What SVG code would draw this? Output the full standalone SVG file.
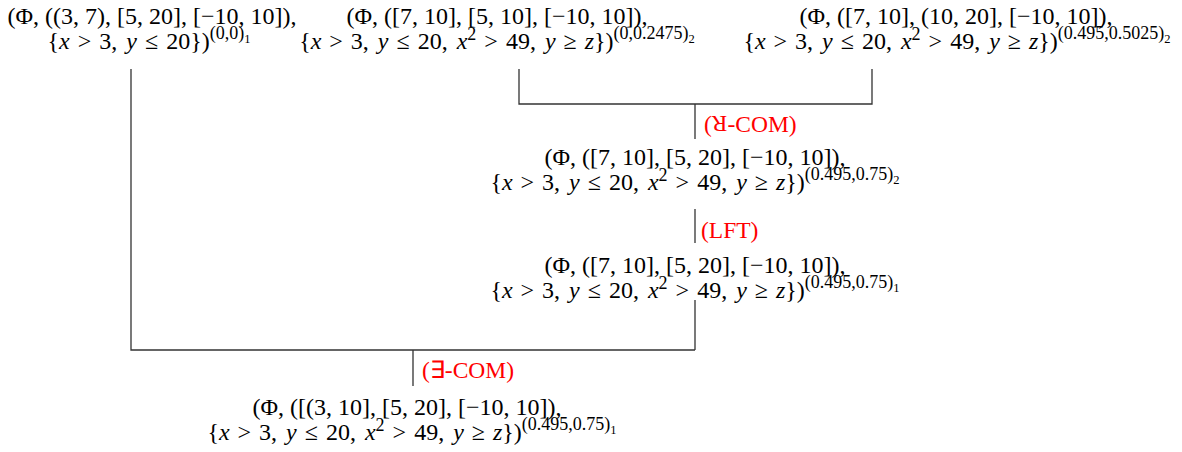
<svg xmlns="http://www.w3.org/2000/svg" width="1182" height="452" viewBox="0 0 1182 452">
<style>
.t { font-family: "Liberation Serif", "Times New Roman", serif; font-size: 24px; fill: #000; text-anchor: middle; }
.l2 { word-spacing: 3px; }
.i { font-style: italic; }
.sup { font-size: 18px; }
.ss { font-size: 12.5px; }
.lbl { font-family: "Liberation Serif", "Times New Roman", serif; font-size: 23.5px; fill: #ff0000; }
.c { stroke: #333; stroke-width: 1.3; fill: none; }
</style>
<rect width="1182" height="452" fill="#fff"/>
<g id="connectors">
  <path class="c" d="M131,69 V350 H695 M695,300 V350 M413,350 V386"/>
  <path class="c" d="M519,69 V104 H872 V69 M695,104 V139"/>
  <path class="c" d="M695,209 V243"/>
</g>
<g id="node-top-left">
  <text class="t" x="152" y="24">(Φ, ((3, 7), [5, 20], [−10, 10]),</text>
  <text class="t l2" x="149" y="49">{<tspan class="i">x</tspan>&#x2004;&gt;&#x2004;3, <tspan class="i">y</tspan>&#x2004;≤&#x2004;20})<tspan class="sup" dy="-10">(0,0)</tspan><tspan class="ss" dy="4">1</tspan></text>
</g>
<g id="node-top-mid">
  <text class="t" x="497" y="24">(Φ, ([7, 10], [5, 10], [−10, 10]),</text>
  <text class="t l2" x="497" y="49">{<tspan class="i">x</tspan>&#x2004;&gt;&#x2004;3, <tspan class="i">y</tspan>&#x2004;≤&#x2004;20, <tspan class="i">x</tspan><tspan class="sup" dy="-9">2</tspan><tspan dy="9">&#x2004;&gt;&#x2004;49, </tspan><tspan class="i">y</tspan>&#x2004;≥&#x2004;<tspan class="i">z</tspan>})<tspan class="sup" dy="-10">(0,0.2475)</tspan><tspan class="ss" dy="4">2</tspan></text>
</g>
<g id="node-top-right">
  <text class="t" x="956" y="24">(Φ, ([7, 10], (10, 20], [−10, 10]),</text>
  <text class="t l2" x="957" y="49">{<tspan class="i">x</tspan>&#x2004;&gt;&#x2004;3, <tspan class="i">y</tspan>&#x2004;≤&#x2004;20, <tspan class="i">x</tspan><tspan class="sup" dy="-9">2</tspan><tspan dy="9">&#x2004;&gt;&#x2004;49, </tspan><tspan class="i">y</tspan>&#x2004;≥&#x2004;<tspan class="i">z</tspan>})<tspan class="sup" dy="-10">(0.495,0.5025)</tspan><tspan class="ss" dy="4">2</tspan></text>
</g>
<g id="label-r-com">
  <text class="lbl" x="704" y="132">(</text>
  <text class="lbl" x="719.5" y="132" text-anchor="middle" transform="rotate(180 719.5 124.2)">R</text>
  <text class="lbl" x="727.5" y="132">-COM)</text>
</g>
<g id="node-mid-1">
  <text class="t" x="695" y="165">(Φ, ([7, 10], [5, 20], [−10, 10]),</text>
  <text class="t l2" x="695" y="190">{<tspan class="i">x</tspan>&#x2004;&gt;&#x2004;3, <tspan class="i">y</tspan>&#x2004;≤&#x2004;20, <tspan class="i">x</tspan><tspan class="sup" dy="-9">2</tspan><tspan dy="9">&#x2004;&gt;&#x2004;49, </tspan><tspan class="i">y</tspan>&#x2004;≥&#x2004;<tspan class="i">z</tspan>})<tspan class="sup" dy="-10">(0.495,0.75)</tspan><tspan class="ss" dy="4">2</tspan></text>
</g>
<g id="label-lft">
  <text class="lbl" x="701" y="238">(LFT)</text>
</g>
<g id="node-mid-2">
  <text class="t" x="695" y="273">(Φ, ([7, 10], [5, 20], [−10, 10]),</text>
  <text class="t l2" x="695" y="298">{<tspan class="i">x</tspan>&#x2004;&gt;&#x2004;3, <tspan class="i">y</tspan>&#x2004;≤&#x2004;20, <tspan class="i">x</tspan><tspan class="sup" dy="-9">2</tspan><tspan dy="9">&#x2004;&gt;&#x2004;49, </tspan><tspan class="i">y</tspan>&#x2004;≥&#x2004;<tspan class="i">z</tspan>})<tspan class="sup" dy="-10">(0.495,0.75)</tspan><tspan class="ss" dy="4">1</tspan></text>
</g>
<g id="label-e-com">
  <text class="lbl" x="422" y="378">(∃-COM)</text>
</g>
<g id="node-bottom">
  <text class="t" x="407" y="415">(Φ, ([(3, 10], [5, 20], [−10, 10]),</text>
  <text class="t l2" x="412" y="440">{<tspan class="i">x</tspan>&#x2004;&gt;&#x2004;3, <tspan class="i">y</tspan>&#x2004;≤&#x2004;20, <tspan class="i">x</tspan><tspan class="sup" dy="-9">2</tspan><tspan dy="9">&#x2004;&gt;&#x2004;49, </tspan><tspan class="i">y</tspan>&#x2004;≥&#x2004;<tspan class="i">z</tspan>})<tspan class="sup" dy="-10">(0.495,0.75)</tspan><tspan class="ss" dy="4">1</tspan></text>
</g>
</svg>
